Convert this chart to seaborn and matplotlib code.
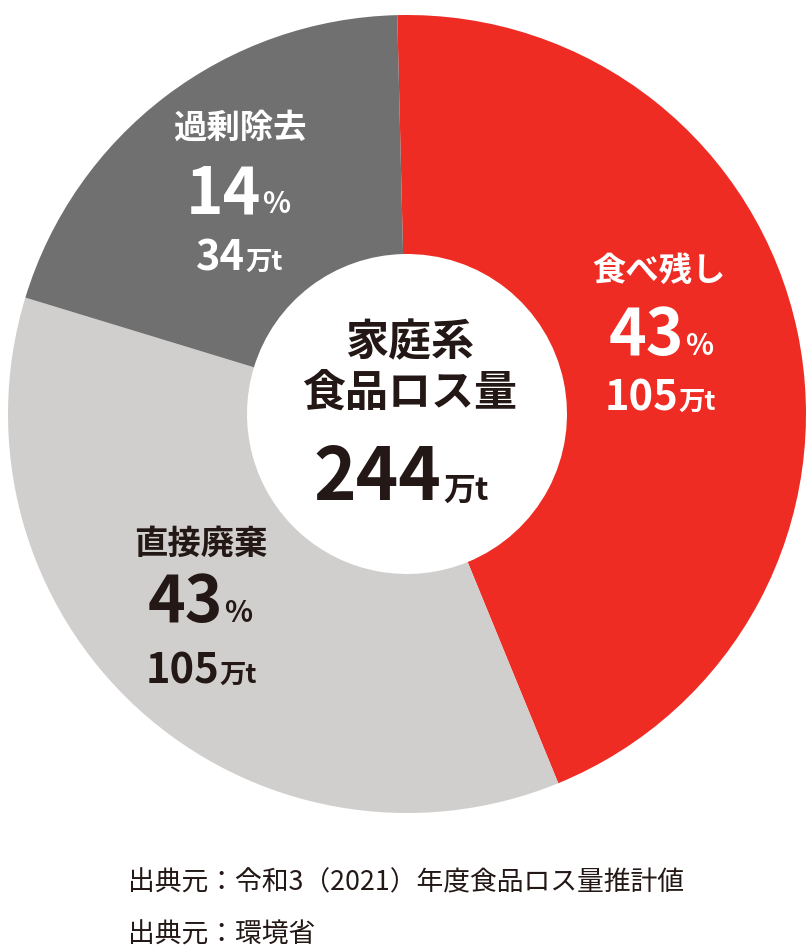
import matplotlib
matplotlib.use("Agg")
import matplotlib.pyplot as plt
import seaborn as sns

# ---- data ----
categories = ["食べ残し", "直接廃棄", "過剰除去"]
tonnage = [105, 105, 34]          # 万t
percent = [43, 43, 14]            # %
slice_share = [44.2, 35.9, 19.9]  # share of the ring as drawn in the reference
total = 244                       # 万t
center_title = ["家庭系", "食品ロス量"]
sources = ["出典元：令和3（2021）年度食品ロス量推計値", "出典元：環境省"]

sns.set_theme(style="white")
plt.rcParams['font.family'] = ['Noto Sans CJK JP', 'DejaVu Sans']

colors = ["#EE2C24", "#D1CFCE", "#717071"]
text_colors = ["#FFFFFF", "#231815", "#FFFFFF"]
DARK = "#231815"

W, H = 808, 948
fig = plt.figure(figsize=(W / 100, H / 100), dpi=100)
ax = fig.add_axes([0, 0, 1, 1])

cx, cy, R, r_in = 407, 414, 399, 160

def Y(y):
    return H - y

ax.pie(slice_share, colors=colors, startangle=91.4, counterclock=False,
       center=(cx, Y(cy)), radius=R,
       wedgeprops=dict(width=R - r_in, linewidth=0, edgecolor="none"))
ax.set_xlim(0, W)
ax.set_ylim(0, H)
ax.set_aspect("equal")
ax.axis("off")

# label layout per slice: (name center, pct right/baseline, ton right/baseline)
layout = [
    dict(name=(659, 271), pct=(684, 355), ton=(678, 410)),
    dict(name=(201, 544), pct=(223, 622), ton=(219, 683)),
    dict(name=(240, 128), pct=(261, 213), ton=(245, 270)),
]

for i, cat in enumerate(categories):
    c = text_colors[i]
    L = layout[i]
    ax.text(L["name"][0], Y(L["name"][1]), cat, color=c, fontsize=24,
            fontweight="bold", ha="center", va="center")
    ax.text(L["pct"][0], Y(L["pct"][1]), f"{percent[i]}", color=c,
            fontsize=46, fontweight="bold", ha="right", va="baseline")
    ax.text(L["pct"][0] + 1, Y(L["pct"][1]), "%", color=c,
            fontsize=21, fontweight="bold", ha="left", va="baseline")
    ax.text(L["ton"][0], Y(L["ton"][1]), f"{tonnage[i]}", color=c,
            fontsize=30, fontweight="bold", ha="right", va="baseline")
    ax.text(L["ton"][0], Y(L["ton"][1]), "万t", color=c,
            fontsize=19, fontweight="bold", ha="left", va="baseline")

# center text
ax.text(410, Y(342), center_title[0], color=DARK, fontsize=31,
        fontweight="bold", ha="center", va="center")
ax.text(410, Y(393), center_title[1], color=DARK, fontsize=31,
        fontweight="bold", ha="center", va="center")
ax.text(441, Y(500), f"{total}", color=DARK, fontsize=52,
        fontweight="bold", ha="right", va="baseline")
ax.text(443, Y(500), "万t", color=DARK, fontsize=23,
        fontweight="bold", ha="left", va="baseline")

# sources
ax.text(128, Y(883), sources[0], color=DARK, fontsize=19.3,
        ha="left", va="center")
ax.text(128, Y(935), sources[1], color=DARK, fontsize=19.3,
        ha="left", va="center")

fig.savefig("out.png", dpi=100, facecolor="white")
